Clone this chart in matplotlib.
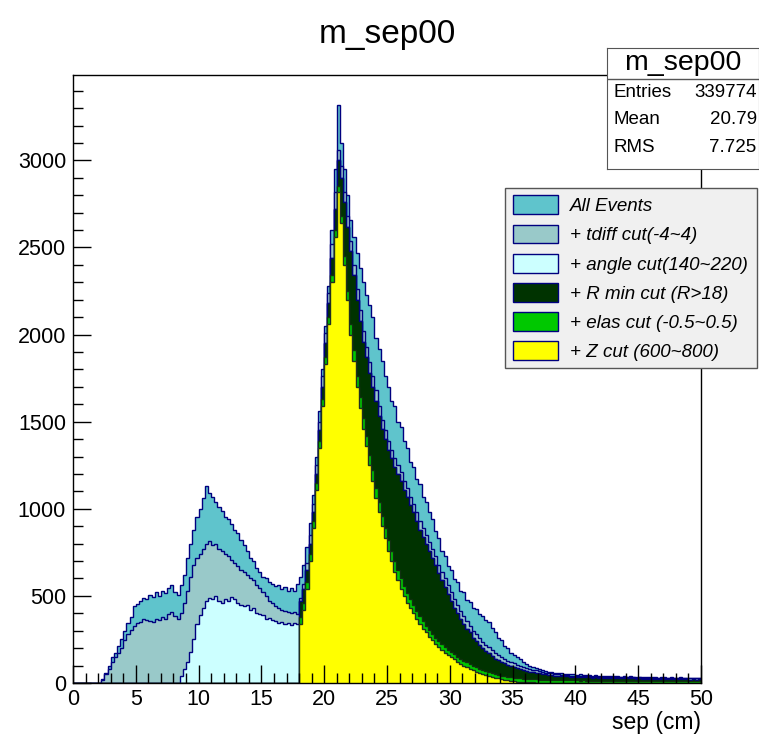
import numpy as np
import matplotlib
matplotlib.use("Agg")
import matplotlib.pyplot as plt
from matplotlib.patches import Patch
from matplotlib.ticker import MultipleLocator

plt.rcParams['font.family'] = ['Liberation Sans', 'DejaVu Sans']

# binning: 200 bins of 0.25 cm from 0 to 50
x_lo, x_hi, n_bins = 0, 50, 200

# counts per bin (rows of 5 cm)
all_events = [
    0, 0, 0, 0, 0, 0, 0, 0, 0, 25, 60, 95, 150, 175, 215, 250, 300, 345, 380, 440,
    455, 470, 490, 480, 505, 495, 520, 500, 530, 515, 545, 560, 525, 505, 560, 620, 720, 800, 880, 950,
    1000, 1060, 1130, 1090, 1070, 1040, 1010, 990, 950, 940, 915, 880, 860, 820, 790, 760, 720, 700, 660, 640,
    610, 600, 580, 570, 555, 560, 540, 550, 530, 545, 530, 570, 610, 680, 780, 920, 1080, 1300, 1560, 1800,
    2050, 2280, 2600, 2950, 3320, 3100, 2950, 2800, 2660, 2560, 2470, 2380, 2300, 2230, 2170, 2100, 1980, 1920, 1850, 1760,
    1700, 1620, 1590, 1500, 1470, 1390, 1350, 1270, 1240, 1170, 1140, 1070, 1040, 980, 940, 870, 830, 760, 730, 670,
    650, 595, 580, 530, 520, 475, 465, 430, 425, 395, 385, 360, 350, 315, 295, 258, 245, 210, 200, 175,
    162, 148, 135, 122, 108, 98, 90, 84, 78, 72, 70, 66, 62, 58, 60, 55, 52, 54, 49, 50,
    47, 52, 45, 44, 46, 42, 44, 40, 41, 43, 39, 40, 38, 41, 37, 39, 36, 38, 35, 37,
    34, 36, 33, 35, 33, 34, 31, 33, 32, 30, 33, 31, 30, 32, 29, 31, 30, 28, 31, 29,
]

tdiff_cut = [
    0, 0, 0, 0, 0, 0, 0, 0, 0, 20, 50, 80, 120, 150, 175, 200, 245, 280, 305, 330,
    345, 350, 365, 360, 355, 350, 365, 360, 380, 370, 395, 405, 385, 370, 400, 460, 530, 610, 680, 720,
    740, 770, 800, 815, 790, 800, 770, 760, 740, 730, 705, 690, 670, 650, 635, 620, 605, 590, 560, 545,
    520, 500, 470, 460, 440, 430, 420, 415, 410, 400, 405, 395, 490, 570, 690, 850, 1030, 1250, 1500, 1760,
    2010, 2240, 2520, 2820, 3060, 2970, 2820, 2680, 2540, 2400, 2260, 2140, 2020, 1930, 1840, 1760, 1680, 1590, 1510, 1450,
    1390, 1340, 1290, 1250, 1210, 1160, 1120, 1070, 1030, 980, 930, 890, 850, 810, 770, 730, 680, 640, 600, 560,
    520, 480, 445, 415, 385, 355, 330, 300, 280, 258, 238, 220, 205, 188, 172, 160, 148, 138, 128, 120,
    112, 105, 98, 92, 86, 80, 76, 72, 68, 64, 60, 57, 55, 52, 50, 48, 46, 44, 43, 42,
    40, 41, 39, 38, 39, 37, 38, 36, 37, 35, 36, 34, 35, 34, 33, 34, 32, 33, 32, 31,
    32, 31, 30, 31, 29, 30, 29, 30, 28, 29, 28, 27, 29, 28, 27, 28, 26, 27, 26, 27,
]

# angle cut below 18 cm (from 8.5 cm); above 18 cm it equals the R min cut
angle_cut_low = [
    40, 80, 120, 180, 250, 340,
    390, 430, 470, 490, 485, 500, 470, 460, 480, 470, 495, 480, 460, 450, 440, 450, 420, 430, 400, 395,
    390, 370, 375, 360, 355, 345, 350, 340, 345, 335, 345, 340,
]

# cuts that only start at 18 cm
rmin_cut = [
    470, 540, 650, 800, 980, 1200, 1450, 1700,
    1950, 2180, 2440, 2720, 3000, 2900, 2760, 2620, 2480, 2340, 2200, 2080, 1960, 1870, 1780, 1700, 1620, 1530, 1460, 1400,
    1340, 1290, 1240, 1200, 1160, 1110, 1070, 1020, 980, 930, 880, 840, 800, 760, 720, 680, 630, 590, 550, 510,
    470, 430, 400, 370, 340, 310, 290, 260, 240, 220, 200, 185, 170, 155, 140, 130, 120, 112, 104, 97,
    90, 85, 80, 75, 70, 66, 62, 58, 55, 52, 49, 47, 45, 43, 41, 40, 39, 38, 37, 36,
    34, 35, 33, 32, 33, 31, 32, 30, 31, 29, 30, 28, 29, 28, 27, 28, 26, 27, 26, 25,
    26, 25, 24, 25, 23, 24, 23, 24, 22, 23, 22, 21, 23, 22, 21, 22, 20, 21, 20, 21,
]

elas_cut = [
    380, 460, 580, 740, 930, 1150, 1390, 1630,
    1870, 2100, 2340, 2600, 2850, 2680, 2450, 2250, 2060, 1910, 1760, 1640, 1520, 1420, 1310, 1220, 1120, 1040, 960, 890,
    820, 760, 700, 650, 600, 555, 515, 480, 450, 415, 385, 355, 330, 305, 280, 260, 240, 222, 205, 190,
    178, 165, 152, 140, 128, 118, 108, 98, 90, 82, 75, 68, 62, 56, 51, 46, 42, 38, 35, 32,
    30, 28, 26, 25, 24, 23, 22, 21, 20, 19, 19, 18, 18, 17, 17, 16, 16, 16, 15, 15,
    15, 14, 15, 14, 14, 13, 14, 13, 13, 14, 13, 12, 13, 13, 12, 13, 12, 12, 13, 12,
    12, 11, 12, 12, 11, 12, 11, 11, 12, 11, 11, 10, 11, 11, 10, 11, 10, 11, 10, 10,
]

z_cut = [
    340, 420, 540, 700, 890, 1110, 1350, 1590,
    1830, 2060, 2300, 2560, 2820, 2640, 2400, 2200, 2000, 1850, 1700, 1580, 1460, 1360, 1250, 1160, 1060, 980, 900, 830,
    760, 700, 640, 590, 540, 500, 460, 430, 400, 370, 340, 310, 290, 265, 245, 225, 205, 190, 175, 160,
    148, 135, 122, 110, 100, 90, 80, 72, 65, 58, 52, 46, 40, 35, 30, 26, 22, 19, 16, 13,
    10, 8, 6, 5, 4, 3, 3, 2, 2, 1, 1, 1, 0, 0, 0, 0, 0, 0, 0, 0,
    0, 0, 0, 0, 0, 0, 0, 0, 0, 0, 0, 0, 0, 0, 0, 0, 0, 0, 0, 0,
    0, 0, 0, 0, 0, 0, 0, 0, 0, 0, 0, 0, 0, 0, 0, 0, 0, 0, 0, 0,
]

labels = ['All Events', '+ tdiff cut(-4~4)', '+ angle cut(140~220)',
          '+ R min cut (R>18)', '+ elas cut (-0.5~0.5)', '+ Z cut (600~800)']
fill_colors = ['#5fc4cc', '#99c9c9', '#ccffff', '#003300', '#00c800', '#ffff00']
line_colors = ['#00007f', '#00007f', '#00007f', '#00007f', '#103010', '#203020']

# build the full-range arrays
edges = np.linspace(x_lo, x_hi, n_bins + 1)
n_pad18 = n_bins - len(rmin_cut)
angle_full = np.concatenate([np.zeros(n_pad18 - len(angle_cut_low)), angle_cut_low, rmin_cut])
series = [np.array(all_events, float), np.array(tdiff_cut, float), angle_full,
          np.concatenate([np.zeros(n_pad18), rmin_cut]),
          np.concatenate([np.zeros(n_pad18), elas_cut]),
          np.concatenate([np.zeros(n_pad18), z_cut])]

W, H = 759, 739
fig = plt.figure(figsize=(W / 100, H / 100), dpi=100)
ax = fig.add_axes([73 / W, 1 - 683 / H, 628 / W, 608 / H])

# each histogram drawn over the previous one, like ROOT "same"
for vals, fc, lc in zip(series, fill_colors, line_colors):
    ax.stairs(vals, edges, fill=True, facecolor=fc, edgecolor='none')
    ax.stairs(vals, edges, color=lc, lw=1.0)

ax.set_xlim(x_lo, x_hi)
ax.set_ylim(0, 3490)
ax.xaxis.set_major_locator(MultipleLocator(5))
ax.xaxis.set_minor_locator(MultipleLocator(1))
ax.yaxis.set_major_locator(MultipleLocator(500))
ax.yaxis.set_minor_locator(MultipleLocator(100))
ax.tick_params(which='both', direction='in', top=False, right=False, labelsize=15.5)
ax.tick_params(which='major', length=13, width=1)
ax.tick_params(which='minor', length=7, width=1)
ax.tick_params(axis='y', pad=5)
ax.tick_params(axis='x', pad=4)
for s in ax.spines.values():
    s.set_linewidth(1)

fig.text((73 + 701) / 2 / W, 1 - 35 / H, 'm_sep00', ha='center', va='center', fontsize=24)
fig.text(701 / W, 1 - 722 / H, 'sep (cm)', ha='right', va='center', fontsize=16.5)

# legend
handles = [Patch(facecolor=c, edgecolor='#00007f', lw=1) for c in fill_colors]
leg = ax.legend(handles, labels, loc='upper left',
                bbox_to_anchor=(505 / W, 1 - 380 / H, 252 / W, 192 / H),
                bbox_transform=fig.transFigure, mode='expand', borderaxespad=0,
                prop={'style': 'italic', 'size': 13.5}, handlelength=2.4, handleheight=1.17,
                labelspacing=0.5, handletextpad=0.65, borderpad=0.4,
                fancybox=False, framealpha=1, facecolor='#f0f0f0', edgecolor='#555555')
leg.get_frame().set_linewidth(1)

# stats box
sax = fig.add_axes([607 / W, 1 - 169 / H, 152 / W, 121 / H])
sax.set_xlim(0, 1)
sax.set_ylim(0, 1)
sax.set_xticks([])
sax.set_yticks([])
for s in sax.spines.values():
    s.set_color('#555555')
sax.axhline(0.745, color='#555555', lw=1)
sax.text(0.5, 0.875, 'm_sep00', ha='center', va='center', fontsize=20.5)
for yy, name, val in [(0.635, 'Entries', '339774'), (0.405, 'Mean', '20.79'), (0.18, 'RMS', '7.725')]:
    sax.text(0.04, yy, name, ha='left', va='center', fontsize=13.5)
    sax.text(0.985, yy, val, ha='right', va='center', fontsize=13.5)

fig.savefig('out.png', dpi=100)
